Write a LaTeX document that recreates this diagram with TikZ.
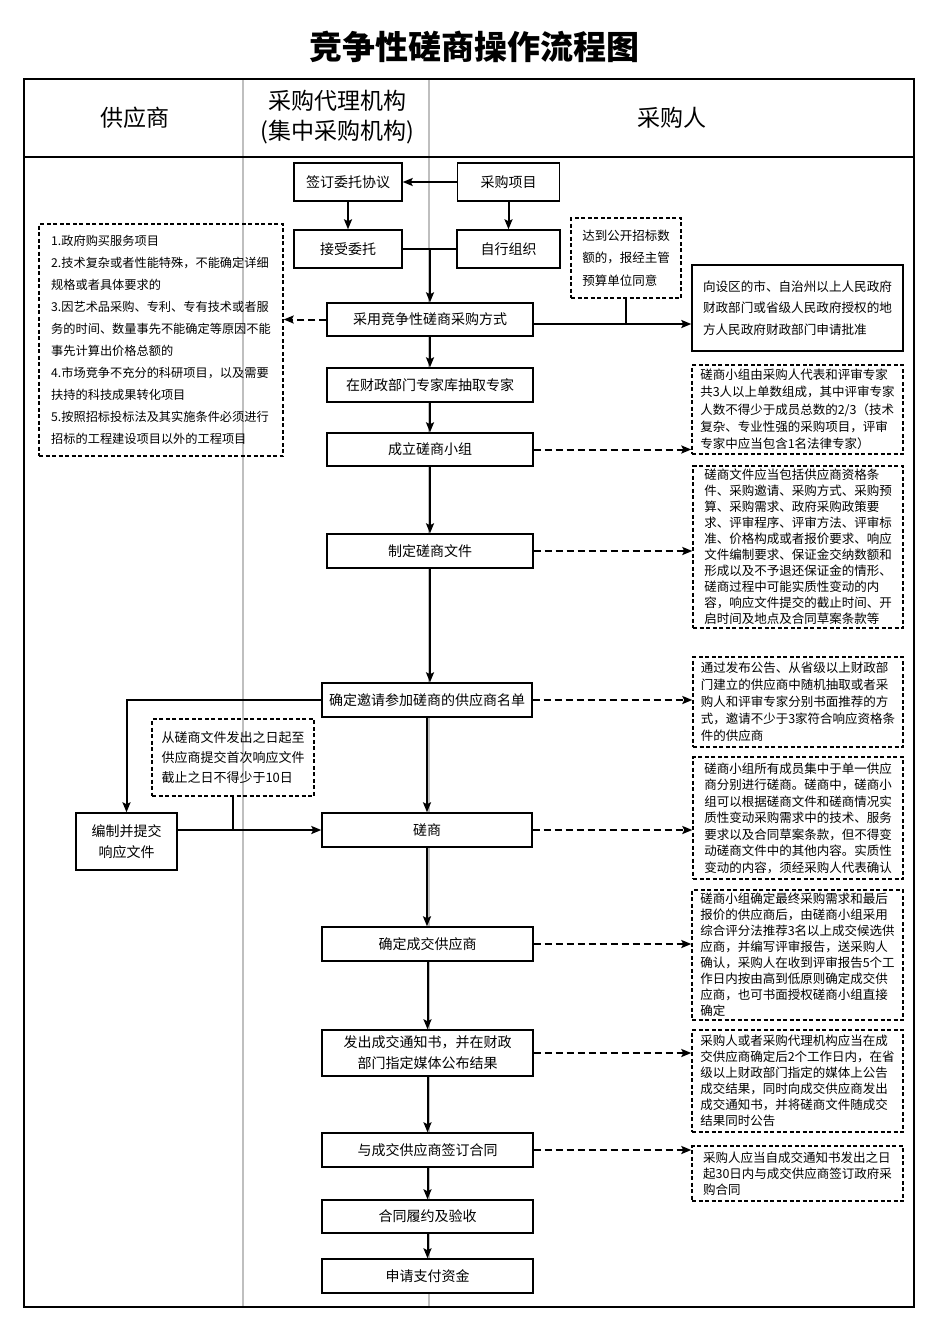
\documentclass[tikz,border=0pt]{standalone}
\usepackage{fontspec}
\setmainfont{Noto Sans CJK SC}
\usetikzlibrary{arrows.meta}

\begin{document}
\begin{tikzpicture}[x=1pt, y=-1pt,
		procbox/.style={draw, line width=1.4pt, fill=white, inner sep=0pt, align=center, minimum width=211, minimum height=34, font=\fontsize{14}{21}\selectfont},
		notebox/.style={draw, dash pattern=on 4pt off 2.5pt, line width=1.4pt, inner sep=0pt, align=left, minimum width=211, font=\fontsize{12.5}{16}\selectfont},
		arr/.style={line width=2pt, -{Stealth[length=10pt, width=8pt, inset=2pt]}},
		darr/.style={arr, dash pattern=on 7pt off 4pt},
		lane/.style={line width=2pt, color=black!25}
	]
		\useasboundingbox (0,0) rectangle (944,1335);
		
		% Title
		\node[font=\bfseries\fontsize{33}{36}\selectfont] (title) at (474,47) {竞争性磋商操作流程图};
		
		% Frame and lanes
		\draw[lane] (243,79) -- (243,1307);
		\draw[lane] (429,79) -- (429,1307);
		\draw[line width=1.5pt] (24,157) -- (914,157);
		\draw[line width=2.5pt] (24,79) rectangle (914,1307);
		\node[font=\fontsize{23}{30}\selectfont] (h1) at (135,118) {供应商};
		\node[font=\fontsize{23}{30}\selectfont, align=center] (h2) at (337,117) {采购代理机构\\(集中采购机构)};
		\node[font=\fontsize{23}{30}\selectfont] (h3) at (672,118) {采购人};
		
		% Entrust or organise
		\node[procbox, minimum width=108, minimum height=38] (p1) at (348,182) {签订委托协议};
		\node[procbox, minimum width=102, minimum height=38] (p2) at (508.5,182) {采购项目};
		\node[procbox, minimum width=108, minimum height=38] (p3) at (348,249) {接受委托};
		\node[procbox, minimum width=103, minimum height=38] (p4) at (508.5,249) {自行组织};
		\draw[arr] (p2) -- (p1);
		\draw[line width=2pt] (p3) -- (p4);
		
		% Main column
		\node[procbox, minimum width=206, minimum height=33] (p5) at (430,319.5) {采用竞争性磋商采购方式};
		\node[procbox, minimum width=206] (p6) at (430,385) {在财政部门专家库抽取专家};
		\node[procbox, minimum width=206, minimum height=33] (p7) at (430,449.5) {成立磋商小组};
		\node[procbox, minimum width=206] (p8) at (430,551) {制定磋商文件};
		\node[procbox, minimum width=210] (p9) at (427,700) {确定邀请参加磋商的供应商名单};
		\node[procbox, minimum width=210] (p10) at (427,830) {磋商};
		\node[procbox] (p11) at (427.5,944) {确定成交供应商};
		\node[procbox, minimum height=46] (p12) at (427.5,1053) {发出成交通知书，并在财政\\部门指定媒体公布结果};
		\node[procbox] (p13) at (427.5,1150) {与成交供应商签订合同};
		\node[procbox, minimum height=33] (p14) at (427.5,1216.5) {合同履约及验收};
		\node[procbox] (p15) at (427.5,1276) {申请支付资金};
		\node[procbox, minimum width=101, minimum height=57] (p16) at (126.5,841.5) {编制并提交\\响应文件};
		\node[procbox, minimum height=86, align=left, font=\fontsize{12.6}{21.7}\selectfont] (p17) at (797.5,308) {向设区的市、自治州以上人民政府\\财政部门或省级人民政府授权的地\\方人民政府财政部门申请批准};
		
		% Notes
		\node[notebox, minimum width=244, minimum height=232, font=\fontsize{12.2}{22}\selectfont] (n1) at (161,340) {1.政府购买服务项目\\2.技术复杂或者性能特殊，不能确定详细\\规格或者具体要求的\\3.因艺术品采购、专利、专有技术或者服\\务的时间、数量事先不能确定等原因不能\\事先计算出价格总额的\\4.市场竞争不充分的科研项目，以及需要\\扶持的科技成果转化项目\\5.按照招标投标法及其实施条件必须进行\\招标的工程建设项目以外的工程项目};
		\node[notebox, minimum width=110, minimum height=80, font=\fontsize{12.5}{22.5}\selectfont] (n2) at (626,258) {达到公开招标数\\额的，报经主管\\预算单位同意};
		\node[notebox, minimum height=89, font=\fontsize{12.5}{17.4}\selectfont] (n3) at (797.5,409.5) {磋商小组由采购人代表和评审专家\\共3人以上单数组成，其中评审专家\\人数不得少于成员总数的2/3（技术\\复杂、专业性强的采购项目，评审\\专家中应当包含1名法律专家）};
		\node[notebox, minimum width=210, minimum height=162] (n4) at (798,547) {磋商文件应当包括供应商资格条\\件、采购邀请、采购方式、采购预\\算、采购需求、政府采购政策要\\求、评审程序、评审方法、评审标\\准、价格构成或者报价要求、响应\\文件编制要求、保证金交纳数额和\\形成以及不予退还保证金的情形、\\磋商过程中可能实质性变动的内\\容，响应文件提交的截止时间、开\\启时间及地点及合同草案条款等};
		\node[notebox, minimum width=210, minimum height=90, font=\fontsize{12.5}{17}\selectfont] (n5) at (798,702) {通过发布公告、从省级以上财政部\\门建立的供应商中随机抽取或者采\\购人和评审专家分别书面推荐的方\\式，邀请不少于3家符合响应资格条\\件的供应商};
		\node[notebox, minimum width=210, minimum height=122, font=\fontsize{12.5}{16.5}\selectfont] (n6) at (798,818) {磋商小组所有成员集中于单一供应\\商分别进行磋商。磋商中，磋商小\\组可以根据磋商文件和磋商情况实\\质性变动采购需求中的技术、服务\\要求以及合同草案条款，但不得变\\动磋商文件中的其他内容。实质性\\变动的内容，须经采购人代表确认};
		\node[notebox, minimum height=130] (n7) at (797.5,955) {磋商小组确定最终采购需求和最后\\报价的供应商后，由磋商小组采用\\综合评分法推荐3名以上成交候选供\\应商，并编写评审报告，送采购人\\确认，采购人在收到评审报告5个工\\作日内按由高到低原则确定成交供\\应商，也可书面授权磋商小组直接\\确定};
		\node[notebox, minimum height=102] (n8) at (797.5,1081) {采购人或者采购代理机构应当在成\\交供应商确定后2个工作日内，在省\\级以上财政部门指定的媒体上公告\\成交结果，同时向成交供应商发出\\成交通知书，并将磋商文件随成交\\结果同时公告};
		\node[notebox, minimum height=55] (n9) at (797.5,1173.5) {采购人应当自成交通知书发出之日\\起30日内与成交供应商签订政府采\\购合同};
		\node[notebox, minimum width=162, minimum height=77, font=\fontsize{13}{20}\selectfont] (n10) at (233,757.5) {从磋商文件发出之日起至\\供应商提交首次响应文件\\截止之日不得少于10日};
		
		% Connectors
		\foreach \a/\b in {p1/p3, p2/p4, p5/p6, p6/p7, p7/p8, p8/p9, p9/p10, p10/p11, p11/p12, p12/p13, p13/p14, p14/p15} {
			\draw[arr] (\a.south) -- (\a.south |- \b.north);
		}
		\draw[arr] (p3.east -| p5.north) -- (p5.north);
		\coordinate (j1) at ([yshift=-4.5pt]p5.east);
		\draw[arr] (j1) -- (j1 -| p17.west);
		\draw[line width=2pt] (n2.south) -- (n2.south |- j1);
		\draw[darr] (p5.west) -- (p5.west -| n1.east);
		\foreach \a/\b in {p7/n3, p8/n4, p9/n5, p10/n6, p11/n7, p12/n8, p13/n9} {
			\draw[darr] (\a.east) -- (\a.east -| \b.west);
		}
		\draw[arr] (p9.west) -| (p16.north);
		\draw[arr] (p16.east |- p10.west) -- (p10.west);
		\draw[line width=2pt] (n10.south) -- (n10.south |- p10.west);
		
	\end{tikzpicture}
\end{document}
